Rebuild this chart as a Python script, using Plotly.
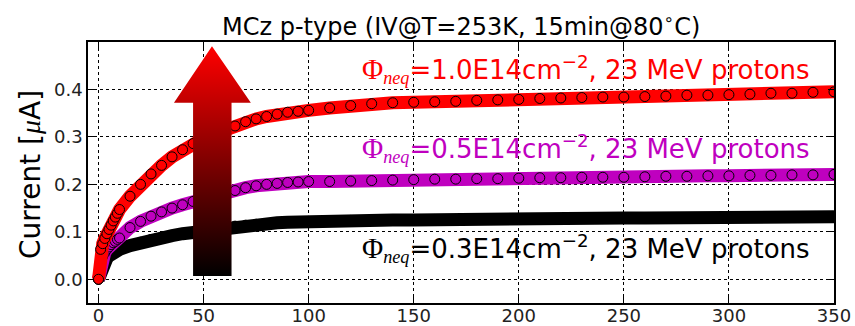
import plotly.graph_objects as go

# Bias voltage [V]
voltage = [0, 1, 2, 3, 4, 5, 6, 7, 8, 9, 10,
           15, 20, 25, 30, 35, 40, 45, 50, 55, 60, 65, 70, 75, 80, 85, 90, 95, 100,
           110, 120, 130, 140, 150, 160, 170, 180, 190, 200, 210, 220, 230, 240,
           250, 260, 270, 280, 290, 300, 310, 320, 330, 340, 350]

# Current [uA] for the three fluences
i_10e14 = [0.0, 0.063, 0.075, 0.086, 0.096, 0.105, 0.114, 0.123, 0.131, 0.139, 0.147,
           0.175, 0.200, 0.222, 0.240, 0.258, 0.273, 0.286, 0.297, 0.306, 0.315, 0.323, 0.332,
           0.338, 0.343, 0.348, 0.352, 0.354, 0.356,
           0.361, 0.366, 0.370, 0.372, 0.373, 0.374, 0.375, 0.377, 0.378, 0.379, 0.381, 0.382,
           0.383, 0.384, 0.384, 0.385, 0.386, 0.388, 0.388, 0.389, 0.390, 0.392, 0.392, 0.394, 0.395]
i_05e14 = [0.0, 0.036, 0.048, 0.056, 0.063, 0.068, 0.073, 0.077, 0.080, 0.084, 0.087,
           0.109, 0.122, 0.133, 0.142, 0.150, 0.157, 0.164, 0.170, 0.176, 0.181, 0.187, 0.193,
           0.197, 0.200, 0.202, 0.204, 0.205, 0.206,
           0.206, 0.207, 0.208, 0.209, 0.210, 0.211, 0.211, 0.212, 0.212, 0.213, 0.214, 0.214,
           0.215, 0.215, 0.215, 0.216, 0.217, 0.217, 0.218, 0.218, 0.219, 0.219, 0.220, 0.220, 0.221]
i_03e14 = [0.0, 0.018, 0.030, 0.038, 0.044, 0.049, 0.053, 0.056, 0.059, 0.061, 0.063,
           0.071, 0.078, 0.084, 0.088, 0.092, 0.096, 0.099, 0.103, 0.106, 0.109, 0.112, 0.114,
           0.116, 0.117, 0.119, 0.120, 0.121, 0.122,
           0.123, 0.124, 0.124, 0.125, 0.125, 0.126, 0.126, 0.126, 0.127, 0.127, 0.127, 0.128,
           0.128, 0.128, 0.129, 0.129, 0.129, 0.130, 0.130, 0.130, 0.131, 0.131, 0.131, 0.132, 0.132]

fluence_labels = ["0.3E14", "0.5E14", "1.0E14"]
label_y = [0.065, 0.275, 0.442]
label_x = 339.4

x_ticks = [0, 50, 100, 150, 200, 250, 300, 350]
y_ticks = [0.0, 0.1, 0.2, 0.3, 0.4]

# gradient arrow outline (data units)
arrow_x = [45.0, 63.3, 63.3, 72.5, 54.0, 35.9, 45.0, 45.0]
arrow_y = [0.007, 0.007, 0.372, 0.372, 0.491, 0.372, 0.372, 0.007]

series = [
    (i_03e14, "#000000"),
    (i_05e14, "#bf00bf"),
    (i_10e14, "#ff0000"),
]

fig = go.Figure()
for vals, col in series:
    fig.add_trace(go.Scatter(
        x=voltage, y=vals, mode="lines+markers",
        line=dict(color=col, width=13),
        marker=dict(symbol="circle", size=10, color=col,
                    line=dict(color="black", width=1)),
        hoverinfo="skip",
    ))

fig.add_trace(go.Scatter(
    x=arrow_x, y=arrow_y, mode="lines", fill="toself",
    line=dict(width=0, color="rgba(0,0,0,0)"),
    fillgradient=dict(type="vertical",
                      colorscale=[[0, "#000000"], [1, "#ff0000"]]),
    hoverinfo="skip",
))

for (vals, col), lab, ly in zip(series, fluence_labels, label_y):
    fig.add_annotation(
        x=label_x, y=ly, xref="x", yref="y", xanchor="right", yanchor="middle",
        showarrow=False,
        text=('<span style="font-family:serif;font-size:29px">Φ</span>'
              '<span style="font-family:serif"><sub><i>neq</i></sub></span>='
              + lab + 'cm<sup>−2</sup>, 23 MeV protons'),
        font=dict(family="DejaVu Sans", size=26, color=col),
    )

fig.add_annotation(
    x=0.5, y=1 + 17 / 261, xref="paper", yref="paper",
    xanchor="center", yanchor="middle", showarrow=False,
    text="MCz p-type (IV@T=253K, 15min@80<sup>∘</sup>C)",
    font=dict(family="DejaVu Sans", size=24, color="black"),
)
fig.add_annotation(
    x=(30 - 88) / 746, y=(303 - 175) / 261, xref="paper", yref="paper",
    xanchor="center", yanchor="middle", showarrow=False, textangle=-90,
    text='Current [<span style="font-family:serif"><i>μ</i></span>A]',
    font=dict(family="DejaVu Sans", size=28, color="black"),
)

axis_common = dict(
    showline=True, linecolor="black", linewidth=1.5, mirror="ticks",
    ticks="inside", ticklen=6, tickwidth=1, tickcolor="black",
    showgrid=True, gridcolor="black", griddash="dot", gridwidth=1,
    zeroline=False, automargin=False,
    tickfont=dict(family="DejaVu Sans", size=18, color="#222222"),
)

fig.update_xaxes(range=[-5, 350], tickvals=x_ticks,
                 ticktext=[str(v) for v in x_ticks],
                 ticklabelstandoff=-4, **axis_common)
fig.update_yaxes(range=[-0.05, 0.5], tickvals=y_ticks,
                 ticktext=[f"{v:.1f}" for v in y_ticks], **axis_common)

fig.update_layout(
    width=855, height=326,
    margin=dict(l=88, r=21, t=42, b=23),
    plot_bgcolor="white", paper_bgcolor="white",
    showlegend=False,
    font=dict(family="DejaVu Sans", color="black"),
)

fig.write_html("out.html",
               config={"displayModeBar": False},
               post_script="document.body.style.margin='0';document.body.style.overflow='hidden';")
